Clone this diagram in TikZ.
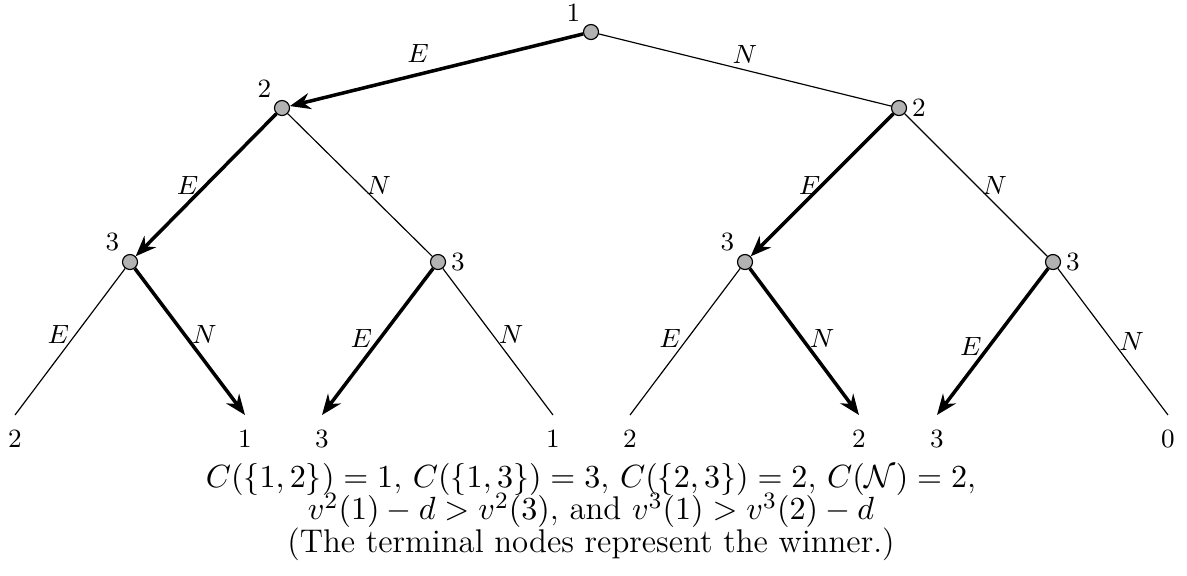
\documentclass[tikz,border=0pt]{standalone}
\usepackage{amsmath,amssymb}
\usepackage{tikz}
\usetikzlibrary{arrows.meta,positioning,calc}
\newcommand{\tightlines}{\lineskiplimit=-20pt\relax}

\begin{document}
\begin{tikzpicture}[x=0.012cm,y=-0.012cm,
    every node/.style={font=\fontsize{9}{11}\selectfont},
    dec/.style={circle,draw,fill=gray!60,minimum size=0.18cm,inner sep=0pt,thin},
    move/.style={thin},
    best/.style={line width=1.2pt,-{Stealth[length=7pt,width=5.5pt]}},
    elab/.style={inner sep=2pt}]
    \useasboundingbox (0,0) rectangle (1187,575);

    % Decision nodes
    \node[dec,label={[inner sep=1.5pt]above left:1}] (r) at (591,32) {};
    \node[dec,label={[inner sep=1.5pt]above left:2}] (a) at (282,108) {};
    \node[dec,label={[inner sep=1.5pt]right:2}] (b) at (899,108) {};
    \node[dec,label={[inner sep=1.5pt]above left:3}] (aa) at (130,262) {};
    \node[dec,label={[inner sep=1.5pt]right:3}] (ab) at (438,262) {};
    \node[dec,label={[inner sep=1.5pt]above left:3}] (ba) at (745,262) {};
    \node[dec,label={[inner sep=1.5pt]right:3}] (bb) at (1053,262) {};

    % Terminal nodes (winner)
    \coordinate[label={[inner sep=5pt]below:2}] (t1) at (15,415);
    \coordinate[label={[inner sep=5pt]below:1}] (t2) at (245,415);
    \coordinate[label={[inner sep=5pt]below:3}] (t3) at (322,415);
    \coordinate[label={[inner sep=5pt]below:1}] (t4) at (553,415);
    \coordinate[label={[inner sep=5pt]below:2}] (t5) at (630,415);
    \coordinate[label={[inner sep=5pt]below:2}] (t6) at (859,415);
    \coordinate[label={[inner sep=5pt]below:3}] (t7) at (937,415);
    \coordinate[label={[inner sep=5pt]below:0}] (t8) at (1168,415);

    % Moves of player 1
    \draw[best] (r) -- (a) node[elab,midway,above left] {$E$};
    \draw[move] (r) -- (b) node[elab,midway,above] {$N$};

    % Moves of player 2
    \draw[best] (a) -- (aa) node[elab,midway,left] {$E$};
    \draw[move] (a) -- (ab) node[elab,midway,right] {$N$};
    \draw[best] (b) -- (ba) node[elab,midway,left,xshift=2pt] {$E$};
    \draw[move] (b) -- (bb) node[elab,midway,right] {$N$};

    % Moves of player 3
    \draw[move] (aa) -- (t1) node[elab,pos=0.45,left] {$E$};
    \draw[best] (aa) -- (t2) node[elab,pos=0.45,right] {$N$};
    \draw[best] (ab) -- (t3) node[elab,pos=0.48,left] {$E$};
    \draw[move] (ab) -- (t4) node[elab,pos=0.45,right] {$N$};
    \draw[move] (ba) -- (t5) node[elab,pos=0.48,left] {$E$};
    \draw[best] (ba) -- (t6) node[elab,pos=0.48,right] {$N$};
    \draw[best] (bb) -- (t7) node[elab,pos=0.53,left] {$E$};
    \draw[move] (bb) -- (t8) node[elab,pos=0.5,right] {$N$};

    % Caption
    \node[align=center,inner sep=0pt,font=\fontsize{11.2}{11}\selectfont\tightlines] (note) at (591,512) {%
        $C(\{1,2\})=1$, $C(\{1,3\})=3$, $C(\{2,3\})=2$, $C(\mathcal{N})=2$,\\
        $v^2(1)-d>v^2(3)$, and $v^3(1)>v^3(2)-d$\\
        (The terminal nodes represent the winner.)};
\end{tikzpicture}
\end{document}
